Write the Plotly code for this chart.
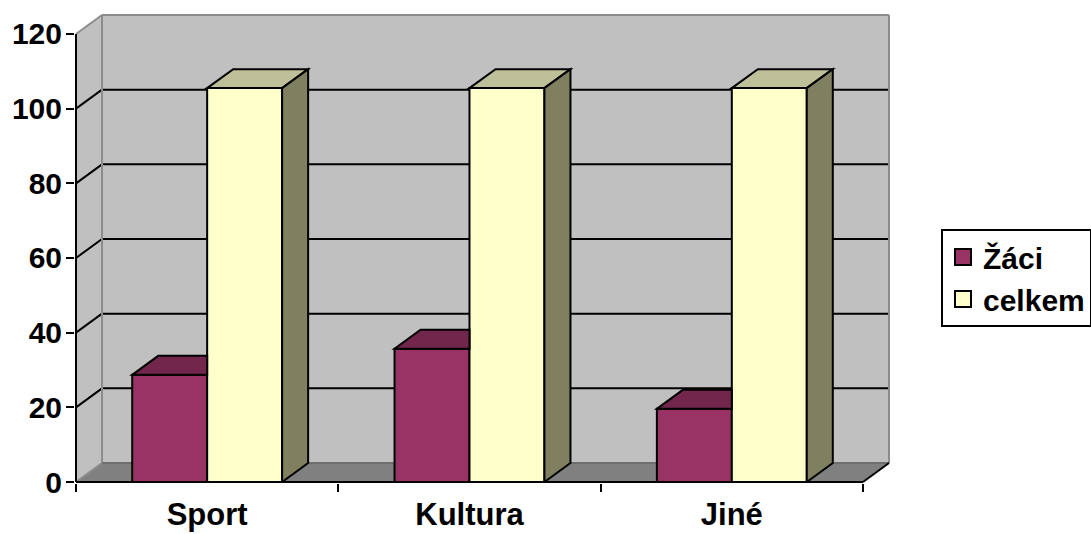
import plotly.graph_objects as go

# ---------------- data ----------------
categories = ["Sport", "Kultura", "Jiné"]
zaci = [28.7, 35.7, 19.6]
celkem = [105.5, 105.5, 105.5]
series_names = ["Žáci", "celkem"]
y_ticks = [0, 20, 40, 60, 80, 100, 120]

# ---------------- styles ----------------
FONT = "Liberation Sans, Arial, sans-serif"
ZACI_FRONT, ZACI_TOP = "#993366", "#73264C"
CEL_FRONT, CEL_TOP, CEL_SIDE = "#FFFFCC", "#BFBF99", "#808060"
WALL, FLOOR, EDGE = "#C0C0C0", "#808080", "#8C8C8C"

W, H = 1091, 534
X_LEFT_PX, X_RIGHT_PX = 76, 862.6      # front plane, category axis
Y_ZERO_PX, Y_TOP_PX = 482, 33.5        # front plane, value 0 and value 120
DEPTH_DX_PX, DEPTH_DY_PX = 26, 19      # 3-D depth offset
YMAX = y_ticks[-1]
ncat = len(categories)
ppx = (X_RIGHT_PX - X_LEFT_PX) / ncat
ppy = (Y_ZERO_PX - Y_TOP_PX) / YMAX
dxu = DEPTH_DX_PX / ppx
dyu = DEPTH_DY_PX / ppy

plot_l = X_LEFT_PX - 1
plot_r = X_RIGHT_PX + DEPTH_DX_PX + 2
plot_t = Y_TOP_PX - DEPTH_DY_PX - 3
plot_b = Y_ZERO_PX + 1
x_range = [-0.5 - (X_LEFT_PX - plot_l) / ppx, -0.5 + (plot_r - X_LEFT_PX) / ppx]
y_range = [-(plot_b - Y_ZERO_PX) / ppy, (Y_ZERO_PX - plot_t) / ppy]

GAP = 1.5  # gap width relative to a bar
bar_w = 1.0 / (2 + GAP)
xpos = list(range(ncat))
x_lo, x_hi = -0.5, ncat - 0.5


def poly(pts, fill, line_color=None, width=2, layer="above"):
    p = "M " + " L ".join(f"{x},{y}" for x, y in pts) + " Z"
    return dict(type="path", path=p, xref="x", yref="y", fillcolor=fill, layer=layer,
                line=dict(color=line_color or "rgba(0,0,0,0)", width=width if line_color else 0))


def seg(x0, y0, x1, y1, color, width=2, layer="below"):
    return dict(type="line", xref="x", yref="y", x0=x0, y0=y0, x1=x1, y1=y1,
                line=dict(color=color, width=width), layer=layer)


shapes = []
# walls and floor
shapes.append(poly([(x_lo + dxu, dyu), (x_hi + dxu, dyu), (x_hi + dxu, YMAX + dyu), (x_lo + dxu, YMAX + dyu)], WALL, layer="below"))
shapes.append(poly([(x_lo, 0), (x_lo, YMAX), (x_lo + dxu, YMAX + dyu), (x_lo + dxu, dyu)], WALL, layer="below"))
shapes.append(poly([(x_lo, 0), (x_hi, 0), (x_hi + dxu, dyu), (x_lo + dxu, dyu)], FLOOR, layer="below"))
# gridlines on back and side wall
for v in y_ticks[1:-1]:
    shapes.append(seg(x_lo + dxu, v + dyu, x_hi + dxu, v + dyu, "black"))
    shapes.append(seg(x_lo, v, x_lo + dxu, v + dyu, "black"))
# wall edges
shapes.append(seg(x_lo + dxu, dyu, x_lo + dxu, YMAX + dyu, EDGE))
shapes.append(seg(x_lo + dxu, YMAX + dyu, x_hi + dxu, YMAX + dyu, EDGE))
shapes.append(seg(x_hi + dxu, dyu, x_hi + dxu, YMAX + dyu, EDGE))
shapes.append(seg(x_lo, YMAX, x_lo + dxu, YMAX + dyu, EDGE))
shapes.append(seg(x_lo + dxu, dyu, x_hi + dxu, dyu, "#6E6E6E"))
shapes.append(seg(x_lo, 0, x_lo + dxu, dyu, EDGE))
shapes.append(seg(x_hi, 0, x_hi + dxu, dyu, "black"))
# front axes
shapes.append(seg(x_lo, 0, x_lo, YMAX, "black"))
shapes.append(seg(x_lo, 0, x_hi, 0, "black"))

# 3-D tops / sides of the bars
for i, c in enumerate(xpos):
    zl, zr = c - bar_w, c
    cl, cr = c, c + bar_w
    vz, vc = zaci[i], celkem[i]
    if vc >= vz:   # right part of the Žáci top is hidden behind the taller celkem bar
        shapes.append(poly([(zl, vz), (zr, vz), (zr, vz + dyu), (zl + dxu, vz + dyu)], ZACI_TOP, "black"))
    else:
        shapes.append(poly([(zl, vz), (zr, vz), (zr + dxu, vz + dyu), (zl + dxu, vz + dyu)], ZACI_TOP, "black"))
    shapes.append(poly([(cl, vc), (cr, vc), (cr + dxu, vc + dyu), (cl + dxu, vc + dyu)], CEL_TOP, "black"))
    shapes.append(poly([(cr, 0), (cr, vc), (cr + dxu, vc + dyu), (cr + dxu, dyu)], CEL_SIDE, "black"))

fig = go.Figure()
fig.add_trace(go.Bar(x=xpos, y=zaci, name=series_names[0], showlegend=False,
                     marker=dict(color=ZACI_FRONT, line=dict(color="black", width=2))))
fig.add_trace(go.Bar(x=xpos, y=celkem, name=series_names[1], showlegend=False,
                     marker=dict(color=CEL_FRONT, line=dict(color="black", width=2))))
# legend entries
for nm, col in zip(series_names, [ZACI_FRONT, CEL_FRONT]):
    fig.add_trace(go.Scatter(x=[None], y=[None], mode="markers", name=nm,
                             marker=dict(symbol="square", size=16, color=col,
                                         line=dict(color="black", width=2))))

fig.update_layout(
    width=W, height=H,
    margin=dict(l=plot_l, r=W - plot_r, t=plot_t, b=H - plot_b, pad=0, autoexpand=False),
    paper_bgcolor="white", plot_bgcolor="white",
    font=dict(family=FONT, color="black", size=30, weight="bold"),
    barmode="group", bargap=GAP / (2 + GAP), bargroupgap=0,
    shapes=shapes,
    showlegend=True,
    legend=dict(x=941 / W, y=1 - 229 / H, xref="container", yref="container",
                xanchor="left", yanchor="top", bgcolor="white", bordercolor="black",
                borderwidth=2, font=dict(family=FONT, size=30, weight="bold", color="black"),
                itemwidth=30, tracegroupgap=0),
    xaxis=dict(range=x_range, showgrid=False, zeroline=False, showline=False, automargin=False,
               tickmode="array", tickvals=xpos, ticktext=categories, ticks="",
               tickfont=dict(family=FONT, size=31, weight="bold", color="black"),
               ticklabelstandoff=10,
               minor=dict(tickmode="array", tickvals=[x_lo + k for k in range(ncat + 1)],
                          ticks="outside", ticklen=8, tickwidth=2, tickcolor="black", showgrid=False)),
    yaxis=dict(range=y_range, showgrid=False, zeroline=False, showline=False, automargin=False,
               tickmode="array", tickvals=y_ticks, ticks="outside", ticklen=8, tickwidth=2,
               tickcolor="black", ticklabelstandoff=-2,
               tickfont=dict(family=FONT, size=30, weight="bold", color="black")),
)

fig.write_html("out.html", config={"displayModeBar": False},
               post_script="document.body.style.margin='0';document.body.style.overflow='hidden';")
